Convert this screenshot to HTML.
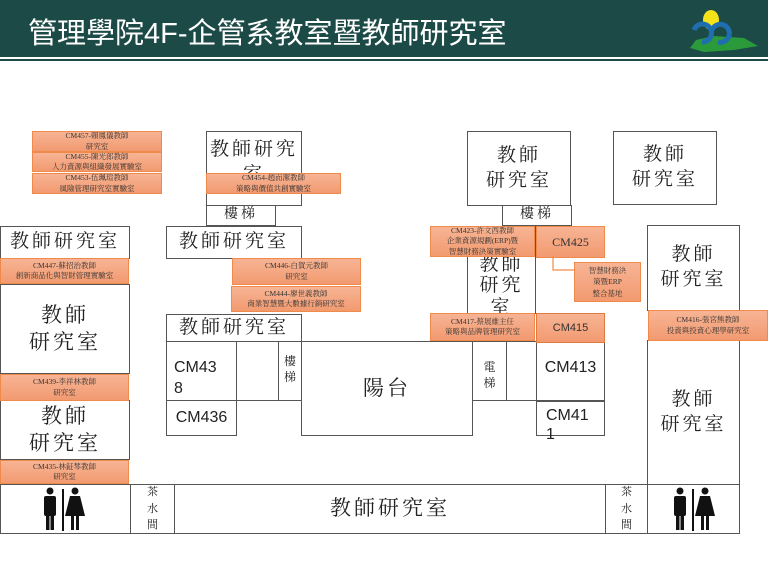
<!DOCTYPE html>
<html><head><meta charset="utf-8">
<style>
*{margin:0;padding:0;box-sizing:border-box}
body{width:768px;height:576px;background:#fff;position:relative;overflow:hidden;font-family:"Liberation Serif","Noto Serif CJK TC","Noto Serif CJK SC",serif}
.hd{position:absolute;left:0;top:0;width:768px;height:57px;background:#1c4a46}
.hl{position:absolute;left:0;top:58px;width:768px;height:1px;background:#fff}
.hl2{position:absolute;left:0;top:59px;width:768px;height:2px;background:#1c4a46}
.t{position:absolute;left:28px;top:10px;color:#fff;font:29px "Liberation Sans","Noto Sans CJK TC",sans-serif;letter-spacing:0px}
.b{position:absolute;border:1.5px solid #555;background:#fff;display:flex;align-items:center;justify-content:center;text-align:center;color:#222;font-size:19px;line-height:1.3;overflow:hidden;letter-spacing:3px}
.o{position:absolute;border:1.5px solid #f08a4b;background:linear-gradient(#f7b494,#f29a70);display:flex;align-items:center;justify-content:center;text-align:center;color:#333;font-size:7.5px;line-height:1.35;white-space:nowrap}
.s{font-family:"Liberation Sans","Noto Sans CJK TC",sans-serif;letter-spacing:0}
.sm{font-size:11px}
</style></head><body>
<div class="hd"></div><div class="hl"></div><div class="hl2"></div>
<div class="t">管理學院4F-企管系教室暨教師研究室</div>
<svg style="position:absolute;left:684px;top:8px" width="76" height="46"><ellipse cx="27" cy="12" rx="8" ry="10" fill="#f5e31a"/><path d="M6 40 L12 32 L30 28 L60 30 L74 38 L50 42 L20 44Z" fill="#2a9a3a"/><path d="M10 22 a9 9 0 1 1 8 12" stroke="#1f6fb0" stroke-width="5" fill="none"/><path d="M28 22 a9 9 0 1 1 6 12" stroke="#1f6fb0" stroke-width="5" fill="none"/></svg>

<!-- top boxes -->
<div class="b" style="left:206px;top:131px;width:96px;height:75px;align-items:flex-start;padding-top:6px">教師研究<br>室</div>
<div class="b sm" style="left:206px;top:205px;width:70px;height:21px;font-size:14px">樓梯</div>
<div class="b" style="left:467px;top:131px;width:104px;height:75px">教師<br>研究室</div>
<div class="b" style="left:502px;top:205px;width:70px;height:21px;font-size:14px">樓梯</div>
<div class="b" style="left:613px;top:131px;width:104px;height:74px">教師<br>研究室</div>

<!-- left column -->
<div class="b" style="left:0;top:226px;width:130px;height:33px">教師研究室</div>
<div class="b" style="left:0;top:284px;width:130px;height:90px;font-size:21px">教師<br>研究室</div>
<div class="b" style="left:0;top:400px;width:130px;height:60px;font-size:21px">教師<br>研究室</div>

<!-- middle -->
<div class="b" style="left:166px;top:226px;width:136px;height:33px">教師研究室</div>
<div class="b" style="left:166px;top:314px;width:136px;height:28px">教師研究室</div>
<div class="b s" style="left:166px;top:341px;width:71px;height:60px;font-size:16px;justify-content:flex-start;padding-left:7px;text-align:left;align-items:flex-end;padding-bottom:0;line-height:1.3">CM43<br>8</div>
<div class="b" style="left:236px;top:341px;width:43px;height:60px"></div>
<div class="b" style="left:278px;top:341px;width:24px;height:60px;font-size:12px;letter-spacing:0;align-items:flex-start;padding-top:12px">樓<br>梯</div>
<div class="b s" style="left:166px;top:400px;width:71px;height:36px;font-size:16px">CM436</div>
<div class="b" style="left:301px;top:341px;width:172px;height:95px;font-size:21px">陽台</div>
<div class="b" style="left:472px;top:341px;width:35px;height:60px;font-size:12px;letter-spacing:0;align-items:flex-start;padding-top:18px">電<br>梯</div>
<div class="b" style="left:506px;top:341px;width:31px;height:60px"></div>
<div class="b" style="left:467px;top:226px;width:69px;height:88px;line-height:1.12;align-items:flex-start;padding-top:27px">教師<br>研究<br>室</div>
<div class="b s" style="left:536px;top:341px;width:69px;height:60px;font-size:16px;align-items:flex-start;padding-top:16px">CM413</div>
<div class="b s" style="left:536px;top:401px;width:69px;height:35px;font-size:16px;overflow:visible;background:transparent;align-items:flex-start;justify-content:flex-start;padding:4px 0 0 9px;text-align:left;line-height:1.2">CM41<br>1</div>

<!-- right -->
<div class="b" style="left:647px;top:225px;width:93px;height:86px">教師<br>研究室</div>
<div class="b" style="left:647px;top:340px;width:93px;height:145px">教師<br>研究室</div>

<!-- bottom strip -->
<div class="b" style="left:0;top:484px;width:131px;height:50px"></div>
<div class="b" style="left:130px;top:484px;width:45px;height:50px;font-size:11px;letter-spacing:0;line-height:1.5">茶<br>水<br>間</div>
<div class="b" style="left:174px;top:484px;width:432px;height:50px;font-size:21px">教師研究室</div>
<div class="b" style="left:605px;top:484px;width:43px;height:50px;font-size:11px;letter-spacing:0;line-height:1.5">茶<br>水<br>間</div>
<div class="b" style="left:647px;top:484px;width:93px;height:50px"></div>
<svg style="position:absolute;left:40px;top:486px" width="46" height="46"><g fill="#111"><circle cx="10" cy="5" r="3.5"/><rect x="4" y="10" width="12" height="20" rx="2"/><rect x="6" y="28" width="3.5" height="16"/><rect x="10.5" y="28" width="3.5" height="16"/><rect x="22" y="3" width="2" height="42"/><circle cx="35" cy="5" r="3.5"/><path d="M30 10 h10 l5 20 h-20z"/><rect x="31" y="29" width="3" height="15"/><rect x="36" y="29" width="3" height="15"/></g></svg>
<svg style="position:absolute;left:670px;top:486px" width="46" height="46"><g fill="#111"><circle cx="10" cy="5" r="3.5"/><rect x="4" y="10" width="12" height="20" rx="2"/><rect x="6" y="28" width="3.5" height="16"/><rect x="10.5" y="28" width="3.5" height="16"/><rect x="22" y="3" width="2" height="42"/><circle cx="35" cy="5" r="3.5"/><path d="M30 10 h10 l5 20 h-20z"/><rect x="31" y="29" width="3" height="15"/><rect x="36" y="29" width="3" height="15"/></g></svg>

<!-- orange labels -->
<div class="o" style="left:32px;top:131px;width:130px;height:21px">CM457-賴鳳儀教師<br>研究室</div>
<div class="o" style="left:32px;top:152px;width:130px;height:20px">CM455-陳光郎教師<br>人力資源與組織發展實驗室</div>
<div class="o" style="left:32px;top:173px;width:130px;height:21px">CM453-伍珮瑄教師<br>風險管理研究室實驗室</div>
<div class="o" style="left:206px;top:173px;width:135px;height:21px">CM454-趙而潔教師<br>策略與價值共創實驗室</div>
<div class="o" style="left:0;top:258px;width:129px;height:26px">CM447-蘇招治教師<br>創新商品化與智財管理實驗室</div>
<div class="o" style="left:232px;top:258px;width:129px;height:27px">CM446-白賀元教師<br>研究室</div>
<div class="o" style="left:231px;top:286px;width:130px;height:26px">CM444-廖世義教師<br>商業智慧暨大數據行銷研究室</div>
<div class="o" style="left:0;top:374px;width:129px;height:27px">CM439-李祥林教師<br>研究室</div>
<div class="o" style="left:0;top:460px;width:129px;height:24px">CM435-林鉦棽教師<br>研究室</div>
<div class="o" style="left:430px;top:226px;width:105px;height:31px">CM423-許文西教師<br>企業資源規劃(ERP)暨<br>智慧財務決策實驗室</div>
<div class="o" style="left:536px;top:226px;width:69px;height:32px;font-size:12px">CM425</div>
<svg style="position:absolute;left:550px;top:256px" width="30" height="20"><path d="M3 0 V14 H26" stroke="#f08a4b" stroke-width="1.2" fill="none"/></svg>
<div class="o" style="left:574px;top:262px;width:67px;height:40px;line-height:1.5">智慧財務決<br>策暨ERP<br>整合基地</div>
<div class="o" style="left:430px;top:313px;width:105px;height:28px">CM417-蔡展維主任<br>策略與品牌管理研究室</div>
<div class="o s" style="left:536px;top:313px;width:69px;height:30px;font-size:11px;border-color:#e07a40">CM415</div>
<div class="o" style="left:648px;top:310px;width:120px;height:31px">CM416-張宮熊教師<br>投資與投資心理學研究室</div>
</body></html>
